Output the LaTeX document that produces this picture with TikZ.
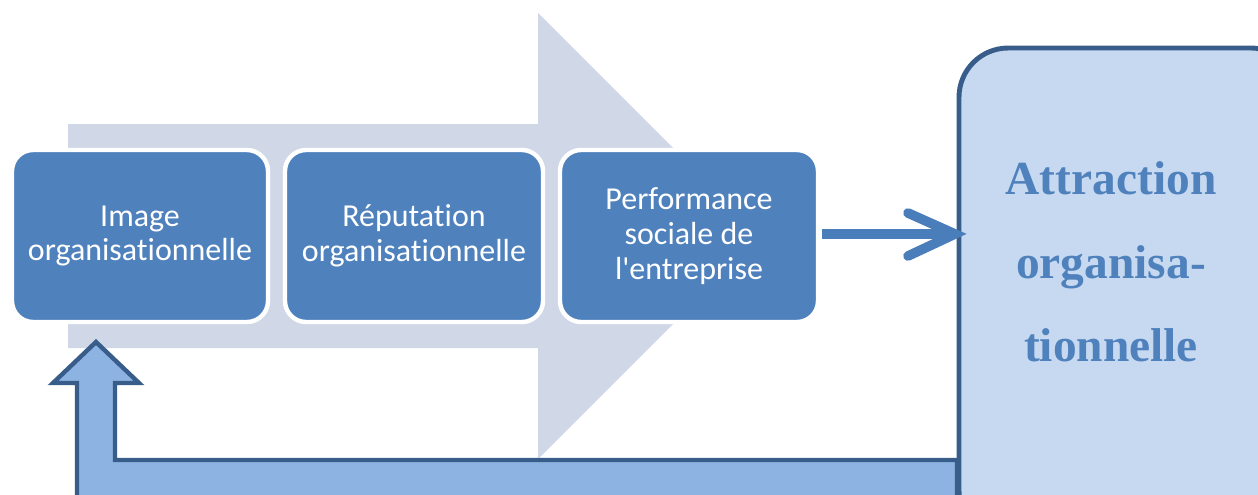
\documentclass[tikz,border=0pt]{standalone}
\usepackage{fontspec}
\setmainfont{Carlito}[Ligatures={CommonOff,TeXOff}]
\newfontfamily\serifbold{Liberation Serif}
\definecolor{bgarrow}{HTML}{D0D8E8}
\definecolor{boxblue}{HTML}{4F81BD}
\definecolor{darkblue}{HTML}{385D8A}
\definecolor{lightbox}{HTML}{C6D9F0}
\definecolor{uarrow}{HTML}{8DB3E2}
\definecolor{linkblue}{HTML}{4A7EBB}
\tikzset{
  stepbox/.style={draw=white, line width=2.5pt, fill=boxblue, rounded corners=12pt},
  steptext/.style={text=white, align=center, font=\fontsize{18.2}{19.8}\selectfont},
}
\begin{document}
\begin{tikzpicture}[x=0.02cm,y=-0.02cm]
\useasboundingbox (0,0) rectangle (1258,494);
\clip (0,0) rectangle (1258,494);
% background arrow
\fill[bgarrow] (68,124) -- (538,124) -- (538,13) -- (761,236) -- (538,459) -- (538,348) -- (68,348) -- cycle;
% step boxes
\draw[stepbox] (12,150) rectangle (268,322);
\draw[stepbox] (285,150) rectangle (543,322);
\draw[stepbox] (560,150) rectangle (818,322);
\node[steptext] (b1) at (140,236) {Image\\organisationnelle};
\node[steptext] (b2) at (414,236) {Réputation\\organisationnelle};
\node[steptext] (b3) at (689,236) {Performance\\sociale de\\l'entreprise};
% right box
\draw[draw=darkblue, line width=2.8pt, fill=lightbox, rounded corners=28pt] (959,48) rectangle (1300,540);
\node[text=boxblue, align=center, font=\serifbold\bfseries\fontsize{27}{47.5}\selectfont] (att) at (1111,262) {Attraction\\organisa-\\tionnelle};
% link arrow
\coordinate (la) at (822,234);
\coordinate (lb) at (955,234);
\draw[linkblue, line width=5.5pt] (la) -- (lb);
\draw[linkblue, line width=5.5pt, line cap=round, line join=miter] (908,213) -- (lb) -- (908,256);
% U arrow
\draw[darkblue, fill=uarrow, line width=2.5pt, line join=miter] (77,520) -- (77,383) -- (53,383) -- (96,342) -- (139,383) -- (115,383) -- (115,460) -- (957,460) -- (957,520) -- cycle;
\end{tikzpicture}
\end{document}
